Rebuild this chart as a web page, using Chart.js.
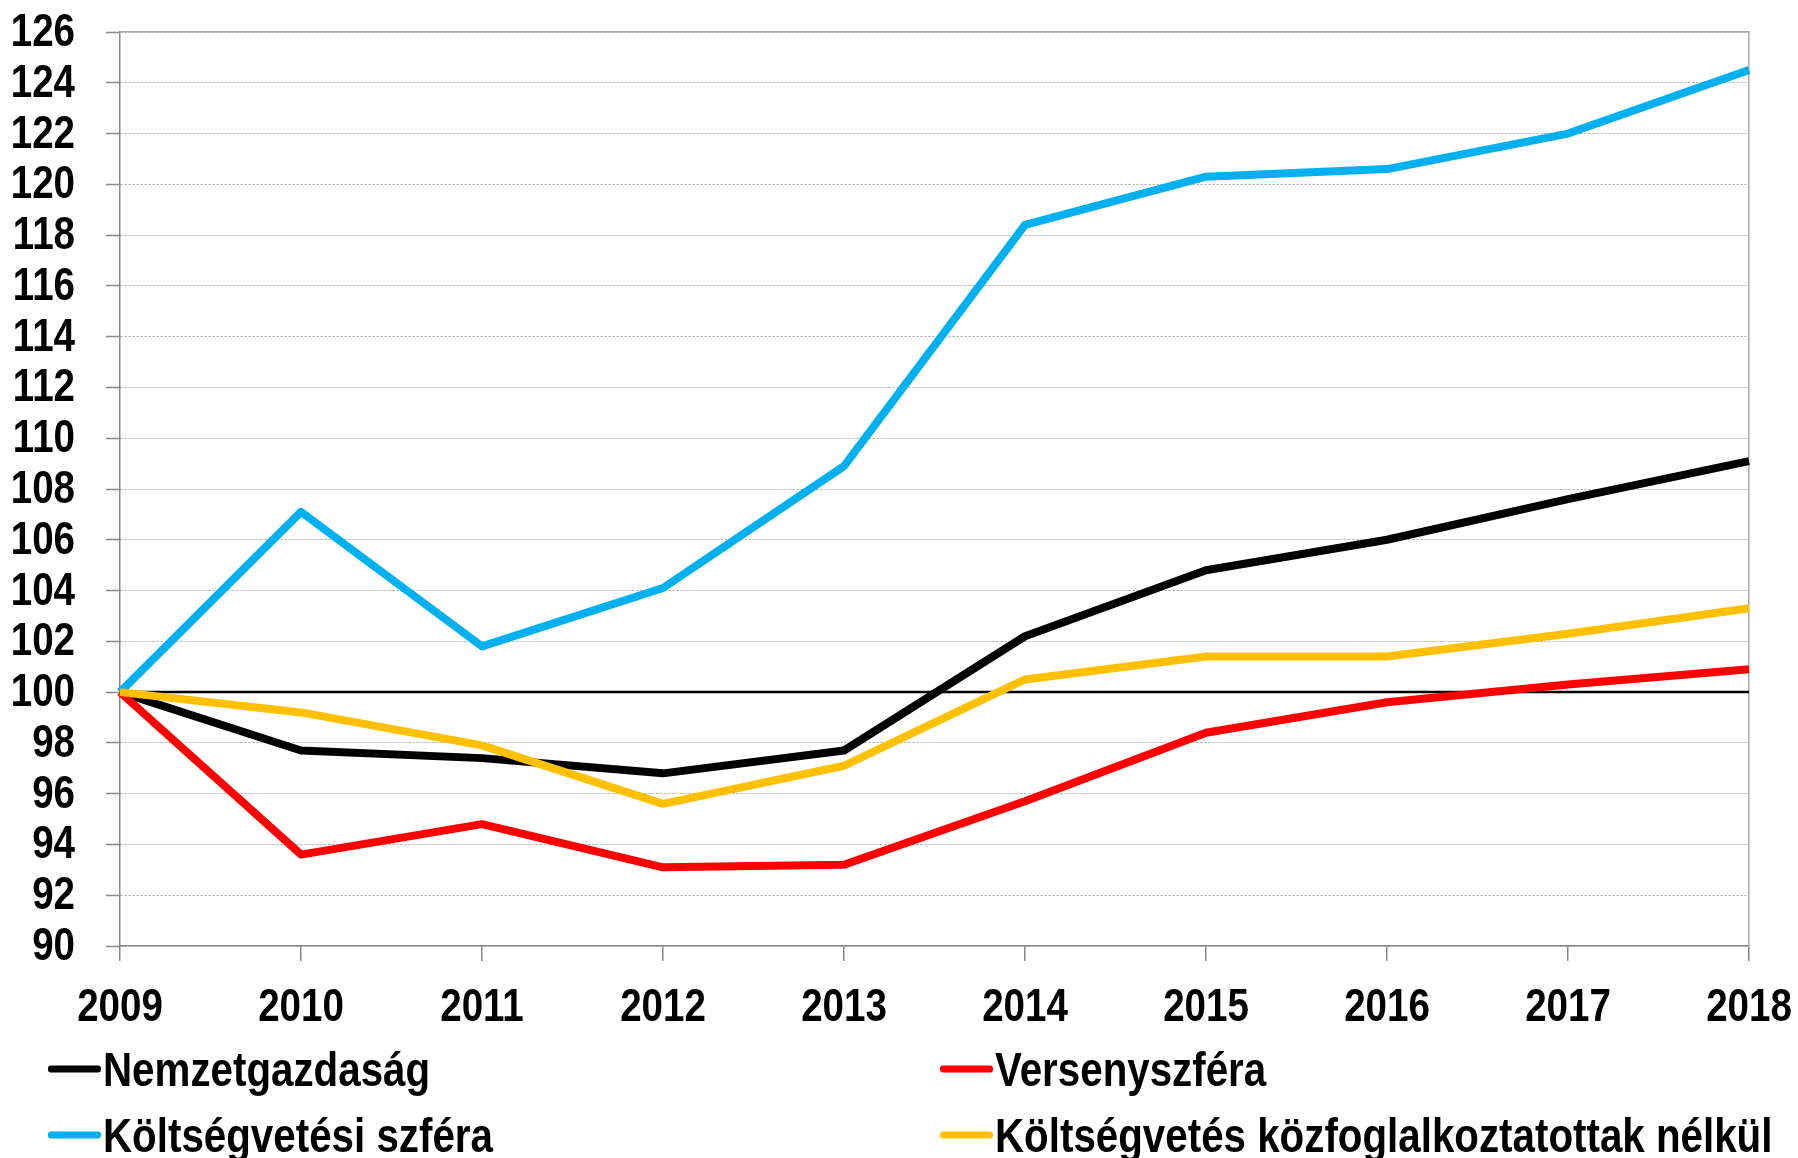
<!DOCTYPE html>
<html>
<head>
<meta charset="utf-8">
<script src="https://cdn.jsdelivr.net/npm/chart.js@4.4.0/dist/chart.umd.min.js"></script>
<style>
  html, body { margin: 0; padding: 0; background: #fff; }
  #wrap { position: relative; width: 1798px; height: 1158px; overflow: hidden; }
  #legend { position: absolute; left: 0; top: 0; width: 100%; height: 100%; pointer-events: none;
    font-family: 'Liberation Sans', Arial, sans-serif; font-weight: bold; font-size: 48px; color: #000; }
  .item { position: absolute; display: flex; align-items: center; white-space: nowrap;
    transform: translateY(-50%); }
  .swatch { width: 53px; height: 7px; border-radius: 3px; margin-right: 2px; flex: none; }
  .txt { display: inline-block; transform: scaleX(0.84); transform-origin: left center; }
</style>
</head>
<body>
<div id="wrap">
  <canvas id="chart" width="1798" height="1158"></canvas>
  <div id="legend"></div>
</div>
<script>
const years = ['2009', '2010', '2011', '2012', '2013', '2014', '2015', '2016', '2017', '2018'];
const nemzetgazdasag = [100, 97.7, 97.4, 96.8, 97.7, 102.2, 104.8, 106.0, 107.6, 109.1];
const versenyszfera = [100, 93.6, 94.8, 93.1, 93.2, 95.7, 98.4, 99.6, 100.3, 100.9];
const koltsegvetesi = [100, 107.1, 101.8, 104.1, 108.9, 118.4, 120.3, 120.6, 122.0, 124.5];
const kozfogNelkul = [100, 99.2, 97.9, 95.6, 97.1, 100.5, 101.4, 101.4, 102.3, 103.3];
const baseline = [100, 100, 100, 100, 100, 100, 100, 100, 100, 100];

const series = [
  { label: 'Nemzetgazdaság', data: nemzetgazdasag, color: '#000000', order: 4 },
  { label: 'Versenyszféra', data: versenyszfera, color: '#ff0000', order: 2 },
  { label: 'Költségvetési szféra', data: koltsegvetesi, color: '#00b0f0', order: 3 },
  { label: 'Költségvetés közfoglalkoztatottak nélkül', data: kozfogNelkul, color: '#ffc000', order: 1 }
];

const datasets = series.map(s => ({
  label: s.label,
  data: s.data,
  borderColor: s.color,
  backgroundColor: s.color,
  borderWidth: 8,
  borderJoinStyle: 'round',
  pointRadius: 0,
  tension: 0,
  order: s.order
}));
datasets.push({
  label: '',
  data: baseline,
  borderColor: '#000000',
  borderWidth: 2.5,
  pointRadius: 0,
  order: 10
});

// Arial Narrow look: Liberation Sans Bold squeezed horizontally
function narrowText(ctx, text, x, y, align) {
  ctx.save();
  ctx.translate(x, y);
  ctx.scale(0.82, 1);
  ctx.textAlign = align;
  ctx.textBaseline = 'middle';
  ctx.fillText(text, 0, 0);
  ctx.restore();
}

const tickLabels = {
  id: 'tickLabels',
  afterDraw(chart) {
    const ctx = chart.ctx;
    const xs = chart.scales.x;
    const ys = chart.scales.y;
    ctx.save();
    ctx.font = "bold 47px 'Liberation Sans', Arial, sans-serif";
    ctx.fillStyle = '#000';
    ys.ticks.forEach(t => {
      narrowText(ctx, String(t.value), ys.right - 45, ys.getPixelForValue(t.value) + 1, 'right');
    });
    xs.ticks.forEach(t => {
      narrowText(ctx, years[t.value], xs.getPixelForValue(t.value), xs.top + 62, 'center');
    });
    ctx.restore();
  }
};

const chart = new Chart(document.getElementById('chart'), {
  type: 'line',
  data: { labels: years, datasets: datasets },
  plugins: [tickLabels],
  options: {
    responsive: false,
    animation: false,
    layout: { padding: { top: 32, right: 49, left: 0, bottom: 0 } },
    plugins: { legend: { display: false }, tooltip: { enabled: false } },
    scales: {
      x: {
        position: 'bottom',
        afterFit: s => { s.height = 212; },
        grid: { drawOnChartArea: false, drawTicks: true, tickLength: 15, tickColor: '#888', lineWidth: 1.5 },
        border: { display: true, color: '#888', width: 1.5 },
        ticks: { display: false, autoSkip: false }
      },
      x2: {
        position: 'top',
        afterFit: s => { s.height = 0; },
        grid: { display: false },
        ticks: { display: false },
        border: { display: true, color: '#aaa', width: 1.5 }
      },
      y: {
        min: 90,
        max: 126,
        afterFit: s => { s.width = 120; },
        grid: { color: '#a6a6a6', lineWidth: 1, tickLength: 14, tickColor: '#888', tickWidth: 1.5 },
        border: { display: true, color: '#888', width: 1.5, dash: [2, 2] },
        ticks: { display: false, stepSize: 2, autoSkip: false }
      },
      y2: {
        position: 'right',
        afterFit: s => { s.width = 0; },
        grid: { display: false },
        ticks: { display: false },
        border: { display: true, color: '#aaa', width: 1.5 }
      }
    }
  }
});

// legend: two columns, two rows
const legendPos = [
  { left: 48, top: 1069 },
  { left: 940, top: 1069 },
  { left: 48, top: 1135 },
  { left: 940, top: 1135 }
];
const legendEl = document.getElementById('legend');
series.forEach((s, i) => {
  const item = document.createElement('div');
  item.className = 'item';
  item.style.left = legendPos[i].left + 'px';
  item.style.top = legendPos[i].top + 'px';
  const sw = document.createElement('span');
  sw.className = 'swatch';
  sw.style.background = s.color;
  const txt = document.createElement('span');
  txt.className = 'txt';
  txt.textContent = s.label;
  item.appendChild(sw);
  item.appendChild(txt);
  legendEl.appendChild(item);
});
</script>
</body>
</html>
